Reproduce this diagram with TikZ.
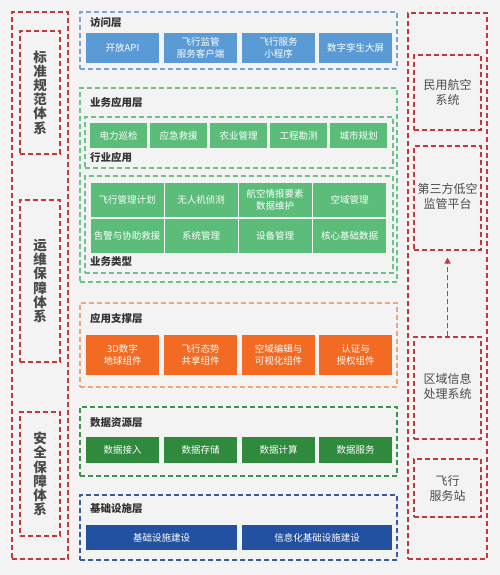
\documentclass[tikz,border=0pt]{standalone}
\usepackage{fontspec}
\setmainfont{Noto Sans CJK SC}
\usetikzlibrary{arrows.meta}
\definecolor{bgc}{HTML}{F3F3F3}
\definecolor{cblue}{HTML}{5B9BD5}
\definecolor{cgreen}{HTML}{5BBD79}
\definecolor{corange}{HTML}{F36A23}
\definecolor{cdgreen}{HTML}{2F8A3E}
\definecolor{cdblue}{HTML}{2251A1}
\definecolor{fblue}{HTML}{7BA3CC}
\definecolor{fgreen}{HTML}{6FC08A}
\definecolor{forange}{HTML}{EFA47A}
\definecolor{fdgreen}{HTML}{3F9150}
\definecolor{fdblue}{HTML}{3A5A9A}
\definecolor{fred}{HTML}{C23B3B}
\definecolor{tdark}{HTML}{333333}
\definecolor{tgray}{HTML}{4A4A4A}
\tikzset{
  frame/.style={draw, dash pattern=on 5pt off 3pt, line width=1.1pt, inner sep=0pt, minimum width=#1},
  btn/.style={inner sep=0pt, text=white, align=center, font=\fontsize{9.5}{12}\selectfont},
  ttl/.style={anchor=west, inner sep=0pt, text=tdark, font=\fontsize{10.5}{12}\bfseries\selectfont},
  vtext/.style={align=center, text=tgray, font=\fontsize{13.5}{14.2}\bfseries\selectfont, inner sep=0pt},
  rtext/.style={align=center, text=tgray, font=\fontsize{12}{15}\selectfont, inner sep=0pt},
}
\begin{document}
\begin{tikzpicture}[x=1pt,y=-1pt]
\fill[bgc] (0,0) rectangle (500,575);
\useasboundingbox (0,0) rectangle (500,575);

% left column
\node[frame=56pt, fred, minimum height=547pt] (Lout) at (40,285.5) {};
\node[frame=40pt, fred, minimum height=123pt] (L1) at (40,92.5) {};
\node[frame=40pt, fred, minimum height=162pt] (L2) at (40,281) {};
\node[frame=40pt, fred, minimum height=124pt] (L3) at (40,474) {};
\node[vtext] (L1t) at (L1) {标\\准\\规\\范\\体\\系};
\node[vtext] (L2t) at (L2) {运\\维\\保\\障\\体\\系};
\node[vtext] (L3t) at (L3) {安\\全\\保\\障\\体\\系};

% right column
\node[frame=79pt, fred, minimum height=546pt] (Rout) at (447.5,286) {};
\node[frame=67pt, fred, minimum height=75pt] (R1) at (447.5,92.5) {};
\node[frame=67pt, fred, minimum height=104pt] (R2) at (447.5,198) {};
\node[frame=67pt, fred, minimum height=102pt] (R3) at (447.5,388) {};
\node[frame=67pt, fred, minimum height=58pt] (R4) at (447.5,488) {};
\node[rtext] (R1t) at (R1) {民用航空\\系统};
\node[rtext] (R2t) at (447.5,196) {第三方低空\\监管平台};
\node[rtext] (R3t) at (447.5,386) {区域信息\\处理系统};
\node[rtext] (R4t) at (R4) {飞行\\服务站};
\draw[fred, line width=1.2pt, dash pattern=on 5pt off 3pt, shorten >=7pt,
  -{Triangle[length=6pt,width=6pt,fill=fred]}] (R3.north) -- (R2.south);

% access layer
\node[frame=317pt, fblue, minimum height=57pt] (A) at (238.5,40.5) {};
\node[ttl] (At) at (90,23) {访问层};
\node[btn, fill=cblue, minimum width=73pt, minimum height=30pt] (A1) at (122.5,48) {开放API};
\node[btn, fill=cblue, minimum width=73pt, minimum height=30pt] (A2) at (200.5,48) {飞行监管\\服务客户端};
\node[btn, fill=cblue, minimum width=73pt, minimum height=30pt] (A3) at (278.5,48) {飞行服务\\小程序};
\node[btn, fill=cblue, minimum width=73pt, minimum height=30pt] (A4) at (355.5,48) {数字孪生大屏};

% business application layer
\node[frame=317pt, fgreen, minimum height=194pt] (B) at (238.5,185) {};
\node[ttl] (Bt) at (90,102) {业务应用层};
\node[frame=308pt, fgreen, minimum height=51pt] (B1) at (239,142.5) {};
\node[ttl] (B1t) at (90,157) {行业应用};
\foreach \n/\x/\t in {1/118.5/电力巡检,2/178.5/应急救援,3/238.5/农业管理,4/298.5/工程勘测,5/358.5/城市规划}
  \node[btn, fill=cgreen, minimum width=57pt, minimum height=25pt] (B1\n) at (\x,135.5) {\t};
\node[frame=308pt, fgreen, minimum height=97pt] (B2) at (239,224.5) {};
\node[ttl] (B2t) at (90,262) {业务类型};
\node[btn, fill=cgreen, minimum width=73pt, minimum height=34pt] (G1) at (127,200) {飞行管理计划};
\node[btn, fill=cgreen, minimum width=73pt, minimum height=34pt] (G2) at (201,200) {无人机侦测};
\node[btn, fill=cgreen, minimum width=73pt, minimum height=34pt] (G3) at (275,200) {航空情报要素\\数据维护};
\node[btn, fill=cgreen, minimum width=73pt, minimum height=34pt] (G4) at (349.5,200) {空域管理};
\node[btn, fill=cgreen, minimum width=73pt, minimum height=34pt] (G5) at (127,235.5) {告警与协助救援};
\node[btn, fill=cgreen, minimum width=73pt, minimum height=34pt] (G6) at (201,235.5) {系统管理};
\node[btn, fill=cgreen, minimum width=73pt, minimum height=34pt] (G7) at (275,235.5) {设备管理};
\node[btn, fill=cgreen, minimum width=73pt, minimum height=34pt] (G8) at (349.5,235.5) {核心基础数据};

% application support layer
\node[frame=317pt, forange, minimum height=84pt] (C) at (238.5,345) {};
\node[ttl] (Ct) at (90,318) {应用支撑层};
\node[btn, fill=corange, minimum width=73pt, minimum height=40pt] (C1) at (122.5,355) {3D数字\\地球组件};
\node[btn, fill=corange, minimum width=73pt, minimum height=40pt] (C2) at (200.5,355) {飞行态势\\共享组件};
\node[btn, fill=corange, minimum width=73pt, minimum height=40pt] (C3) at (278.5,355) {空域编辑与\\可视化组件};
\node[btn, fill=corange, minimum width=73pt, minimum height=40pt] (C4) at (355.5,355) {认证与\\授权组件};

% data resource layer
\node[frame=317pt, fdgreen, minimum height=69pt] (D) at (238.5,441.5) {};
\node[ttl] (Dt) at (90,423) {数据资源层};
\node[btn, fill=cdgreen, minimum width=73pt, minimum height=26pt] (D1) at (122.5,450) {数据接入};
\node[btn, fill=cdgreen, minimum width=73pt, minimum height=26pt] (D2) at (200.5,450) {数据存储};
\node[btn, fill=cdgreen, minimum width=73pt, minimum height=26pt] (D3) at (278.5,450) {数据计算};
\node[btn, fill=cdgreen, minimum width=73pt, minimum height=26pt] (D4) at (355.5,450) {数据服务};

% infrastructure layer
\node[frame=317pt, fdblue, minimum height=65pt] (E) at (238.5,527.5) {};
\node[ttl] (Et) at (90,509) {基础设施层};
\node[btn, fill=cdblue, minimum width=151pt, minimum height=25pt] (E1) at (161.5,537.5) {基础设施建设};
\node[btn, fill=cdblue, minimum width=150pt, minimum height=25pt] (E2) at (317,537.5) {信息化基础设施建设};
\end{tikzpicture}
\end{document}
